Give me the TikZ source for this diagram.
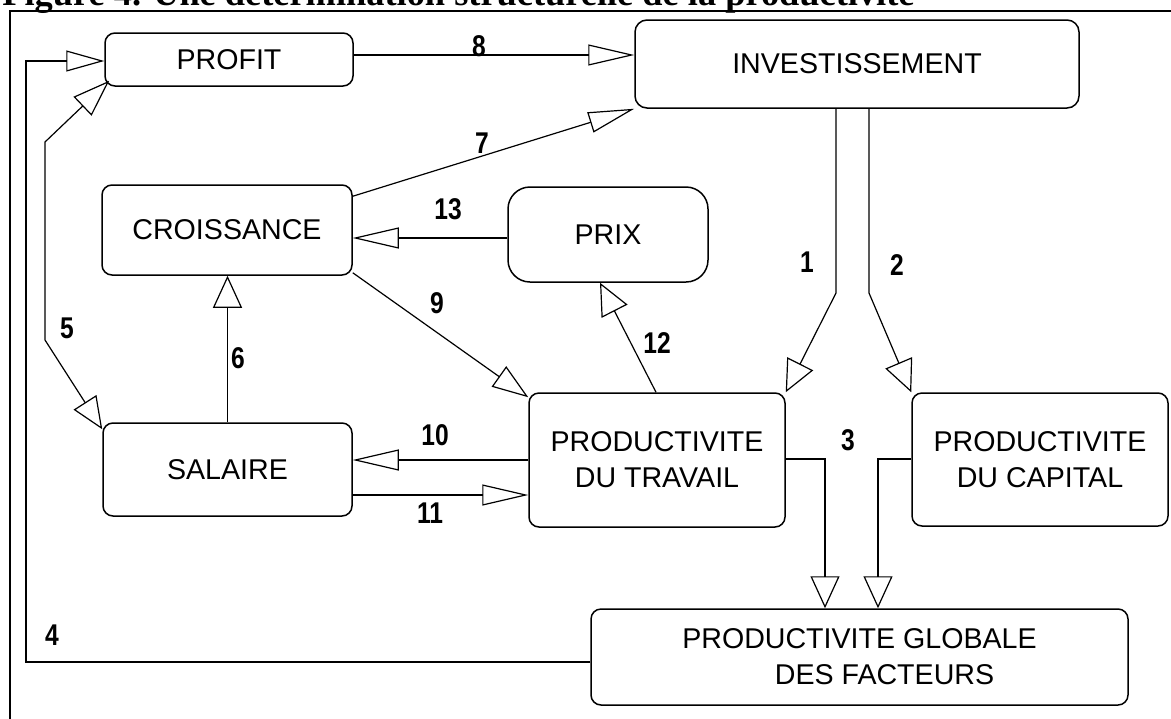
\documentclass[tikz,border=0pt]{standalone}
\usepackage{fontspec}
\setmainfont{Liberation Serif}
\newfontfamily\boxfont{Liberation Sans}
\newfontfamily\numfont[FakeStretch=0.82]{Liberation Sans}
\usepackage{graphicx}
\usetikzlibrary{arrows.meta}

\begin{document}
\begin{tikzpicture}[x=0.5pt, y=-0.5pt,
    bloc/.style={draw, line width=0.75pt, rounded corners=5pt, inner sep=0pt,
                 align=center, font=\boxfont\fontsize{14.3}{18}\selectfont},
    lbl/.style={inner sep=0pt, font=\numfont\bfseries\fontsize{15}{15}\selectfont},
    arr/.style={line width=0.6pt},
    harr/.style={arr, -{Triangle[open, length=23pt, width=10.5pt]}},
    darr/.style={arr, -{Triangle[open, length=18pt, width=12.5pt]}},
    varr/.style={arr, -{Triangle[open, length=16pt, width=14.5pt]}}
  ]
  \useasboundingbox (0,0) rectangle (1171,718);
  \clip (0,0) rectangle (1171,718);
  \node[anchor=base west, inner sep=0pt] (titre) at (2,5.5)
    {\resizebox{456pt}{!}{\bfseries Figure 4. Une détermination structurelle de la productivité}};
  \draw[line width=1pt] (10,740) -- (10,11) -- (1190,11);

  \node[bloc, minimum width=124pt, minimum height=26.5pt] (profit) at (229,59.5) {PROFIT};
  \node[bloc, minimum width=222pt, minimum height=44pt, rounded corners=6pt] (inv) at (857,64) {INVESTISSEMENT};
  \node[bloc, minimum width=125pt, minimum height=45pt] (crois) at (227,230) {CROISSANCE};
  \node[bloc, minimum width=100pt, minimum height=47.5pt, rounded corners=11pt] (prix) at (608,234.5) {PRIX};
  \node[bloc, minimum width=124.5pt, minimum height=46.5pt] (sal) at (227.5,469.5) {SALAIRE};
  \node[bloc, minimum width=128pt, minimum height=67pt] (trav) at (657,460) {PRODUCTIVITE\\DU TRAVAIL};
  \node[bloc, minimum width=128pt, minimum height=66.5pt] (cap) at (1040,459.5) {PRODUCTIVITE\\DU CAPITAL};
  \node[bloc, minimum width=268.5pt, minimum height=48pt] (pgf) at (859.5,657)
    {PRODUCTIVITE GLOBALE\\\hspace*{25pt}DES FACTEURS};

  \coordinate (b1) at (836,293);
  \coordinate (b2) at (869,293);
  \coordinate (b3t) at (825,459);
  \coordinate (b3c) at (878,459);
  \coordinate (c4b) at (26,662);
  \coordinate (c4h) at (26,61);
  \coordinate (c5h) at (45,142);
  \coordinate (c5b) at (45,340);
  \coordinate (c8) at ([yshift=2.25pt]profit.east);
  \coordinate (c11) at ([yshift=-12.75pt]sal.east);
  \coordinate (c13) at ([yshift=-1.75pt]prix.west);

  \draw[varr] (inv.south -| b1) -- (b1) -- (trav.north east);
  \draw[varr] (inv.south -| b2) -- (b2) -- (cap.north west);
  \draw[varr] (trav.east |- b3t) -- (b3t) -- (b3t |- pgf.north);
  \draw[varr] (cap.west |- b3c) -- (b3c) -- (b3c |- pgf.north);
  \draw[arr, -{Triangle[open, length=19pt, width=10.5pt]}] (pgf.west |- c4b) -- (c4b) -- (c4h) -- (profit.west |- c4h);
  \draw[arr, {Triangle[open, length=18.5pt, width=13pt]}-{Triangle[open, length=16pt, width=13.5pt]}]
    ([shift={(2.5pt,3pt)}]profit.south west) -- (c5h) -- (c5b) -- ([yshift=-3.5pt]sal.north west);
  \draw[varr] (sal.north) -- (sal.north |- crois.south);
  \draw[harr] ([yshift=-6pt]crois.north east) -- (inv.south west);
  \draw[harr] (c8) -- (c8 -| inv.west);
  \draw[darr] ([yshift=1.5pt]crois.south east) -- ([yshift=-2.5pt]trav.north west);
  \draw[harr] (trav.west) -- (trav.west -| sal.east);
  \draw[harr] (c11) -- (c11 -| trav.west);
  \draw[varr] ([xshift=-0.5pt]trav.north) -- ([xshift=-4pt]prix.south);
  \draw[harr] (c13) -- (c13 -| crois.east);

  \node[lbl] (l1) at (807,262) {1};
  \node[lbl] (l2) at (897,265) {2};
  \node[lbl] (l3) at (848,440) {3};
  \node[lbl] (l4) at (52,635) {4};
  \node[lbl] (l5) at (67,328) {5};
  \node[lbl] (l6) at (238,358) {6};
  \node[lbl] (l7) at (482,143) {7};
  \node[lbl] (l8) at (479,46) {8};
  \node[lbl] (l9) at (437,303) {9};
  \node[lbl] (l10) at (435,435) {10};
  \node[lbl] (l11) at (430,513) {11};
  \node[lbl] (l12) at (657,343) {12};
  \node[lbl] (l13) at (448,209) {13};
\end{tikzpicture}
\end{document}
